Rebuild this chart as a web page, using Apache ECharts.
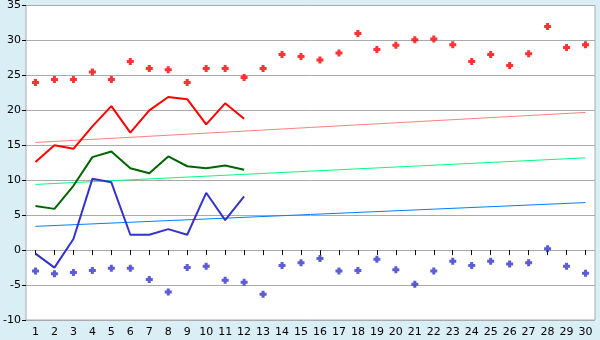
<!DOCTYPE html>
<html><head><meta charset="utf-8">
<script src="https://cdn.jsdelivr.net/npm/echarts@6/dist/echarts.min.js"></script>
<style>html,body{margin:0;padding:0;background:#d9eef5}#c{width:600px;height:340px}</style>
</head><body><div id="c"></div>
<script>
var categories = ['1','2','3','4','5','6','7','8','9','10','11','12','13','14','15','16','17','18','19','20','21','22','23','24','25','26','27','28','29','30'];
var highPoints = [24,24.4,24.4,25.5,24.4,27,26,25.8,24,26,26,24.7,26,28,27.7,27.2,28.2,31,28.7,29.3,30.1,30.2,29.4,27,28,26.4,28.1,32,29,29.4];
var lowPoints = [-3,-3.4,-3.2,-2.9,-2.6,-2.6,-4.2,-6,-2.5,-2.3,-4.3,-4.6,-6.3,-2.2,-1.8,-1.2,-3,-2.9,-1.3,-2.8,-4.9,-3,-1.6,-2.2,-1.6,-2,-1.8,0.2,-2.3,-3.3];
var redLine = [12.6,15,14.5,17.7,20.6,16.8,20,21.9,21.6,18,21,18.8];
var greenLine = [6.3,5.9,9.2,13.3,14.1,11.7,11,13.4,12,11.7,12.1,11.5];
var blueLine = [-0.5,-2.5,1.6,10.2,9.7,2.2,2.2,3,2.2,8.2,4.3,7.7];
var redTrend = [15.4, 19.7];
var greenTrend = [9.4, 13.2];
var blueTrend = [3.4, 6.8];
var yTicks = [-10,-5,0,5,10,15,20,25,30,35];

function trend(ends){ var a = categories.map(function(){return null;}); a[0]=ends[0]; a[a.length-1]=ends[1]; return a; }
var plus = 'path://M2,0H5V2H7V5H5V7H2V5H0V2H2Z';
var chart = echarts.init(document.getElementById('c'));
var font = 'DejaVu Sans';
chart.setOption({
  backgroundColor:'#d9eef5',
  animation:false,
  grid:{left:26,right:5,top:5,bottom:20,show:true,backgroundColor:'#fff',borderColor:'#aaa',borderWidth:1},
  xAxis:{type:'category',data:categories,boundaryGap:true,
    axisLine:{show:false},
    axisTick:{show:true,alignWithLabel:true,length:5,lineStyle:{color:'#000'}},
    axisLabel:{color:'#000',fontFamily:font,fontSize:11,margin:7,interval:0}},
  yAxis:{type:'value',min:yTicks[0],max:yTicks[yTicks.length-1],interval:5,
    axisLine:{show:false},
    axisTick:{show:true,length:4,lineStyle:{color:'#000'}},
    axisLabel:{color:'#000',fontFamily:font,fontSize:11,margin:5},
    splitLine:{lineStyle:{color:'#aaa',width:1}}},
  series:[
    {type:'line',data:trend(redTrend),connectNulls:true,symbol:'none',lineStyle:{color:'#ff8080',width:1}},
    {type:'line',data:trend(greenTrend),connectNulls:true,symbol:'none',lineStyle:{color:'#00ff80',width:1}},
    {type:'line',data:trend(blueTrend),connectNulls:true,symbol:'none',lineStyle:{color:'#0080ff',width:1}},
    {type:'line',data:redLine,symbol:'none',lineStyle:{color:'#ff0000',width:2}},
    {type:'line',data:greenLine,symbol:'none',lineStyle:{color:'#006400',width:2}},
    {type:'line',data:blueLine,symbol:'none',lineStyle:{color:'#3333cc',width:2}},
    {type:'scatter',data:highPoints,symbol:plus,symbolSize:7,itemStyle:{color:'#ff0000'}},
    {type:'scatter',data:lowPoints,symbol:plus,symbolSize:7,itemStyle:{color:'#3333cc'}}
  ]
});
</script></body></html>
